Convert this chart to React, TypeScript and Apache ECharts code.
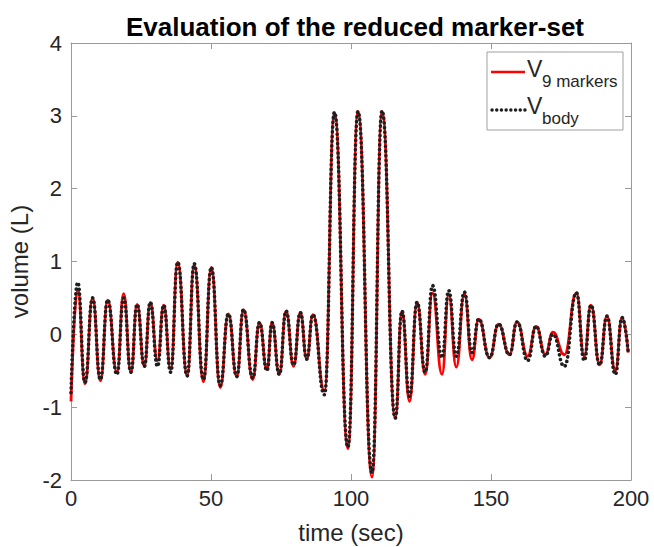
import React, { useEffect, useRef } from "react";
import * as echarts from "echarts";

// Time of each turning point (sec)
const times = [0, 2.4, 5.0, 7.7, 10.5, 13.1, 16.4, 18.8, 21.4, 23.6, 26.2, 28.3, 30.9, 33.1, 35.6, 38.1, 41.5, 44.0, 47.3, 50.1, 53.3, 56.2, 59.2, 61.6, 64.9, 67.3, 70.0, 71.8, 74.4, 76.8, 79.5, 81.9, 84.2, 86.4, 90.5, 94.1, 98.9, 102.5, 107.5, 111.1, 115.8, 118.2, 120.9, 123.6, 126.5, 129.1, 132.5, 134.9, 137.6, 140.5, 143.2, 145.6, 149.5, 152.7, 156.6, 159.3, 163.1, 166.1, 169.4, 172.1, 176.2, 180.5, 183.3, 185.7, 188.8, 191.4, 194.4, 196.8, 199.0];

// V (9 markers), litres
const v9 = [-0.92, 0.62, -0.68, 0.5, -0.64, 0.47, -0.52, 0.56, -0.52, 0.41, -0.44, 0.44, -0.36, 0.4, -0.48, 0.99, -0.57, 0.96, -0.65, 0.92, -0.73, 0.28, -0.58, 0.34, -0.62, 0.16, -0.48, 0.16, -0.55, 0.32, -0.44, 0.3, -0.34, 0.27, -0.78, 3.04, -1.57, 3.06, -1.96, 3.06, -1.15, 0.32, -0.92, 0.44, -0.55, 0.57, -0.55, 0.55, -0.45, 0.56, -0.35, 0.21, -0.32, 0.14, -0.28, 0.17, -0.3, 0.11, -0.28, 0.03, -0.28, 0.57, -0.3, 0.4, -0.42, 0.25, -0.5, 0.23, -0.25];

// V (body), litres
const vBody = [-0.8, 0.71, -0.66, 0.5, -0.62, 0.47, -0.55, 0.5, -0.52, 0.41, -0.44, 0.44, -0.44, 0.4, -0.52, 0.99, -0.57, 0.97, -0.62, 0.92, -0.7, 0.28, -0.58, 0.34, -0.6, 0.16, -0.5, 0.16, -0.55, 0.32, -0.42, 0.3, -0.34, 0.27, -0.83, 3.05, -1.55, 3.06, -1.9, 3.07, -1.15, 0.32, -0.85, 0.44, -0.52, 0.67, -0.32, 0.6, -0.3, 0.58, -0.25, 0.21, -0.32, 0.14, -0.28, 0.17, -0.36, 0.11, -0.3, 0.0, -0.44, 0.57, -0.36, 0.4, -0.42, 0.25, -0.55, 0.23, -0.25];

const xTicks = [0, 50, 100, 150, 200];
const yTicks = [-2, -1, 0, 1, 2, 3, 4];

const FONT = "'Liberation Sans', Arial, Helvetica, sans-serif";
const AXIS_COLOR = "#9a9a9a";
const TEXT_COLOR = "#262626";

export default function App() {
  const ref = useRef<HTMLDivElement>(null);

  useEffect(() => {
    if (!ref.current) return;
    const chart = echarts.init(ref.current, undefined, { renderer: "svg" });

    const baseAxis = {
      axisLine: { show: true, onZero: false, lineStyle: { color: AXIS_COLOR, width: 1 } },
      axisTick: { show: true, inside: true, length: 6, lineStyle: { color: AXIS_COLOR } },
      splitLine: { show: false },
    };

    const option: any = {
      animation: false,
      backgroundColor: "#ffffff",
      title: {
        text: "Evaluation of the reduced marker-set",
        left: 121,
        top: 9,
        textStyle: { fontFamily: FONT, fontSize: 26, fontWeight: "bold", color: "#000" },
      },
      grid: { left: 71, right: 23, top: 43, bottom: 67, containLabel: false, outerBoundsMode: "none" },
      xAxis: [
        {
          ...baseAxis,
          type: "value",
          min: xTicks[0],
          max: xTicks[xTicks.length - 1],
          interval: xTicks[1] - xTicks[0],
          position: "bottom",
          axisLabel: { fontFamily: FONT, fontSize: 22, color: TEXT_COLOR, margin: 7 },
          name: "time (sec)",
          nameLocation: "middle",
          nameGap: 40,
          nameTextStyle: { fontFamily: FONT, fontSize: 24, color: TEXT_COLOR },
        },
        {
          ...baseAxis,
          type: "value",
          min: xTicks[0],
          max: xTicks[xTicks.length - 1],
          interval: xTicks[1] - xTicks[0],
          position: "top",
          axisLabel: { show: false },
        },
      ],
      yAxis: [
        {
          ...baseAxis,
          type: "value",
          min: yTicks[0],
          max: yTicks[yTicks.length - 1],
          interval: 1,
          position: "left",
          axisLabel: { fontFamily: FONT, fontSize: 22, color: TEXT_COLOR, margin: 9 },
          name: "volume (L)",
          nameLocation: "middle",
          nameRotate: 90,
          nameGap: 34,
          nameTextStyle: { fontFamily: FONT, fontSize: 24, color: TEXT_COLOR },
        },
        {
          ...baseAxis,
          type: "value",
          min: yTicks[0],
          max: yTicks[yTicks.length - 1],
          interval: 1,
          position: "right",
          axisLabel: { show: false },
        },
      ],
      series: [
        {
          name: "V 9 markers",
          type: "line",
          data: times.map((t, i) => [t, v9[i]]),
          smooth: 0.5,
          smoothMonotone: "x",
          showSymbol: false,
          lineStyle: { color: "#ff0000", width: 2.8 },
          z: 2,
        },
        {
          name: "V body",
          type: "line",
          data: times.map((t, i) => [t, vBody[i]]),
          smooth: 0.5,
          smoothMonotone: "x",
          showSymbol: false,
          lineStyle: { color: "#1e1e1e", width: 3.6, type: [0.1, 4.6], cap: "round" },
          z: 3,
        },
      ],
      graphic: [
        {
          type: "rect",
          shape: { x: 487, y: 52, width: 136, height: 78 },
          style: { fill: "#ffffff", stroke: "#a0a0a0", lineWidth: 1 },
          z: 10,
        },
        {
          type: "line",
          shape: { x1: 491, y1: 72, x2: 525, y2: 72 },
          style: { stroke: "#ff0000", lineWidth: 2.6 },
          z: 11,
        },
        {
          type: "text",
          x: 527,
          y: 69,
          style: { text: "V", fontFamily: FONT, fontSize: 23, fill: TEXT_COLOR, verticalAlign: "middle", align: "left" },
          z: 11,
        },
        {
          type: "text",
          x: 542,
          y: 81,
          style: { text: "9 markers", fontFamily: FONT, fontSize: 17, fill: TEXT_COLOR, verticalAlign: "middle", align: "left" },
          z: 11,
        },
        {
          type: "line",
          shape: { x1: 492, y1: 110, x2: 525, y2: 110 },
          style: { stroke: "#1e1e1e", lineWidth: 3.4, lineDash: [0.1, 4.6], lineCap: "round" },
          z: 11,
        },
        {
          type: "text",
          x: 527,
          y: 106,
          style: { text: "V", fontFamily: FONT, fontSize: 23, fill: TEXT_COLOR, verticalAlign: "middle", align: "left" },
          z: 11,
        },
        {
          type: "text",
          x: 542,
          y: 118,
          style: { text: "body", fontFamily: FONT, fontSize: 17, fill: TEXT_COLOR, verticalAlign: "middle", align: "left" },
          z: 11,
        },
      ],
    };

    chart.setOption(option);
    return () => chart.dispose();
  }, []);

  return (
    <div
      ref={ref}
      style={{ position: "fixed", left: 0, top: 0, width: 654, height: 547, background: "#fff" }}
    />
  );
}
